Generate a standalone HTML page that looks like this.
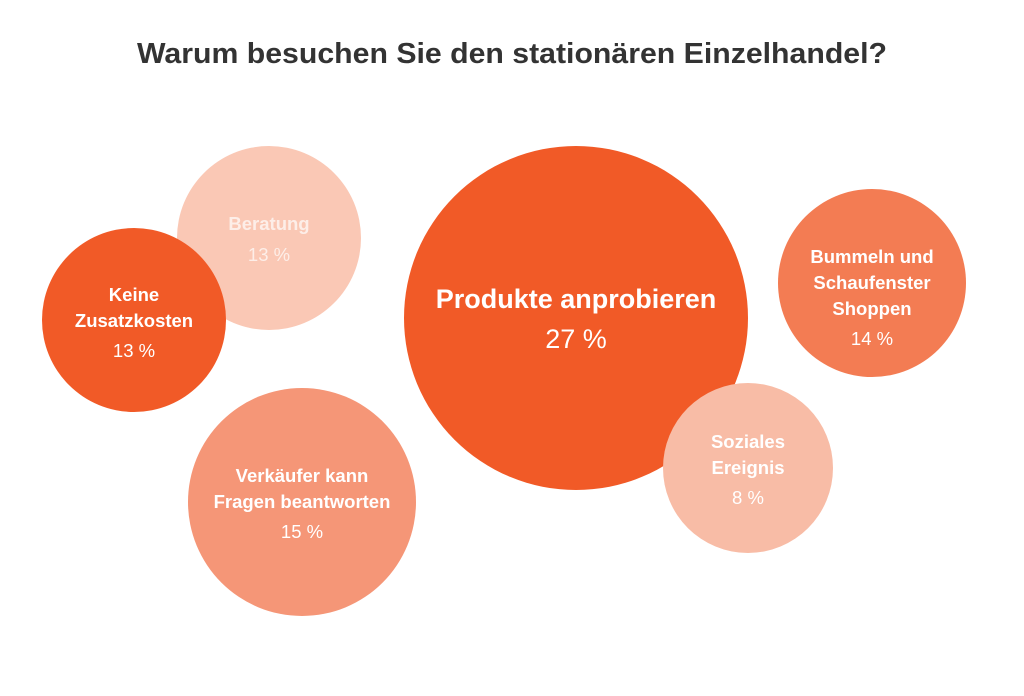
<!DOCTYPE html>
<html><head><meta charset="utf-8"><style>
html,body{margin:0;padding:0;background:#fff;width:1024px;height:696px;overflow:hidden}
svg text{font-family:"Liberation Sans",Arial,sans-serif}
</style></head><body>
<svg width="1024" height="696" viewBox="0 0 1024 696">
<text x="512" y="63" text-anchor="middle" font-size="29" font-weight="bold" fill="#333" textLength="750" lengthAdjust="spacingAndGlyphs">Warum besuchen Sie den stationären Einzelhandel?</text>
<circle cx="269" cy="238" r="92" fill="#FAC8B5"/>
<circle cx="134" cy="320" r="92" fill="#F15A27"/>
<circle cx="302" cy="502" r="114" fill="#F59677"/>
<circle cx="576" cy="318" r="172" fill="#F15A27"/>
<circle cx="872" cy="283" r="94" fill="#F37C53"/>
<circle cx="748" cy="468" r="85" fill="#F8BCA6"/>
<g fill="#fff" text-anchor="middle">
<text x="269" y="230" font-size="18.5" font-weight="bold" fill="#fdeee8">Beratung</text>
<text x="269" y="261" font-size="18.5" fill="#fdeee8">13 %</text>
<text x="134" y="301" font-size="18.5" font-weight="bold">Keine</text>
<text x="134" y="327" font-size="18.5" font-weight="bold">Zusatzkosten</text>
<text x="134" y="357" font-size="18.5">13 %</text>
<text x="576" y="308" font-size="27" font-weight="bold">Produkte anprobieren</text>
<text x="576" y="348" font-size="27">27 %</text>
<text x="872" y="263" font-size="18.5" font-weight="bold">Bummeln und</text>
<text x="872" y="289" font-size="18.5" font-weight="bold">Schaufenster</text>
<text x="872" y="315" font-size="18.5" font-weight="bold">Shoppen</text>
<text x="872" y="345" font-size="18.5">14 %</text>
<text x="302" y="482" font-size="18.5" font-weight="bold">Verkäufer kann</text>
<text x="302" y="508" font-size="18.5" font-weight="bold">Fragen beantworten</text>
<text x="302" y="538" font-size="18.5">15 %</text>
<text x="748" y="448" font-size="18.5" font-weight="bold">Soziales</text>
<text x="748" y="474" font-size="18.5" font-weight="bold">Ereignis</text>
<text x="748" y="504" font-size="18.5">8 %</text>
</g>
</svg>
</body></html>
